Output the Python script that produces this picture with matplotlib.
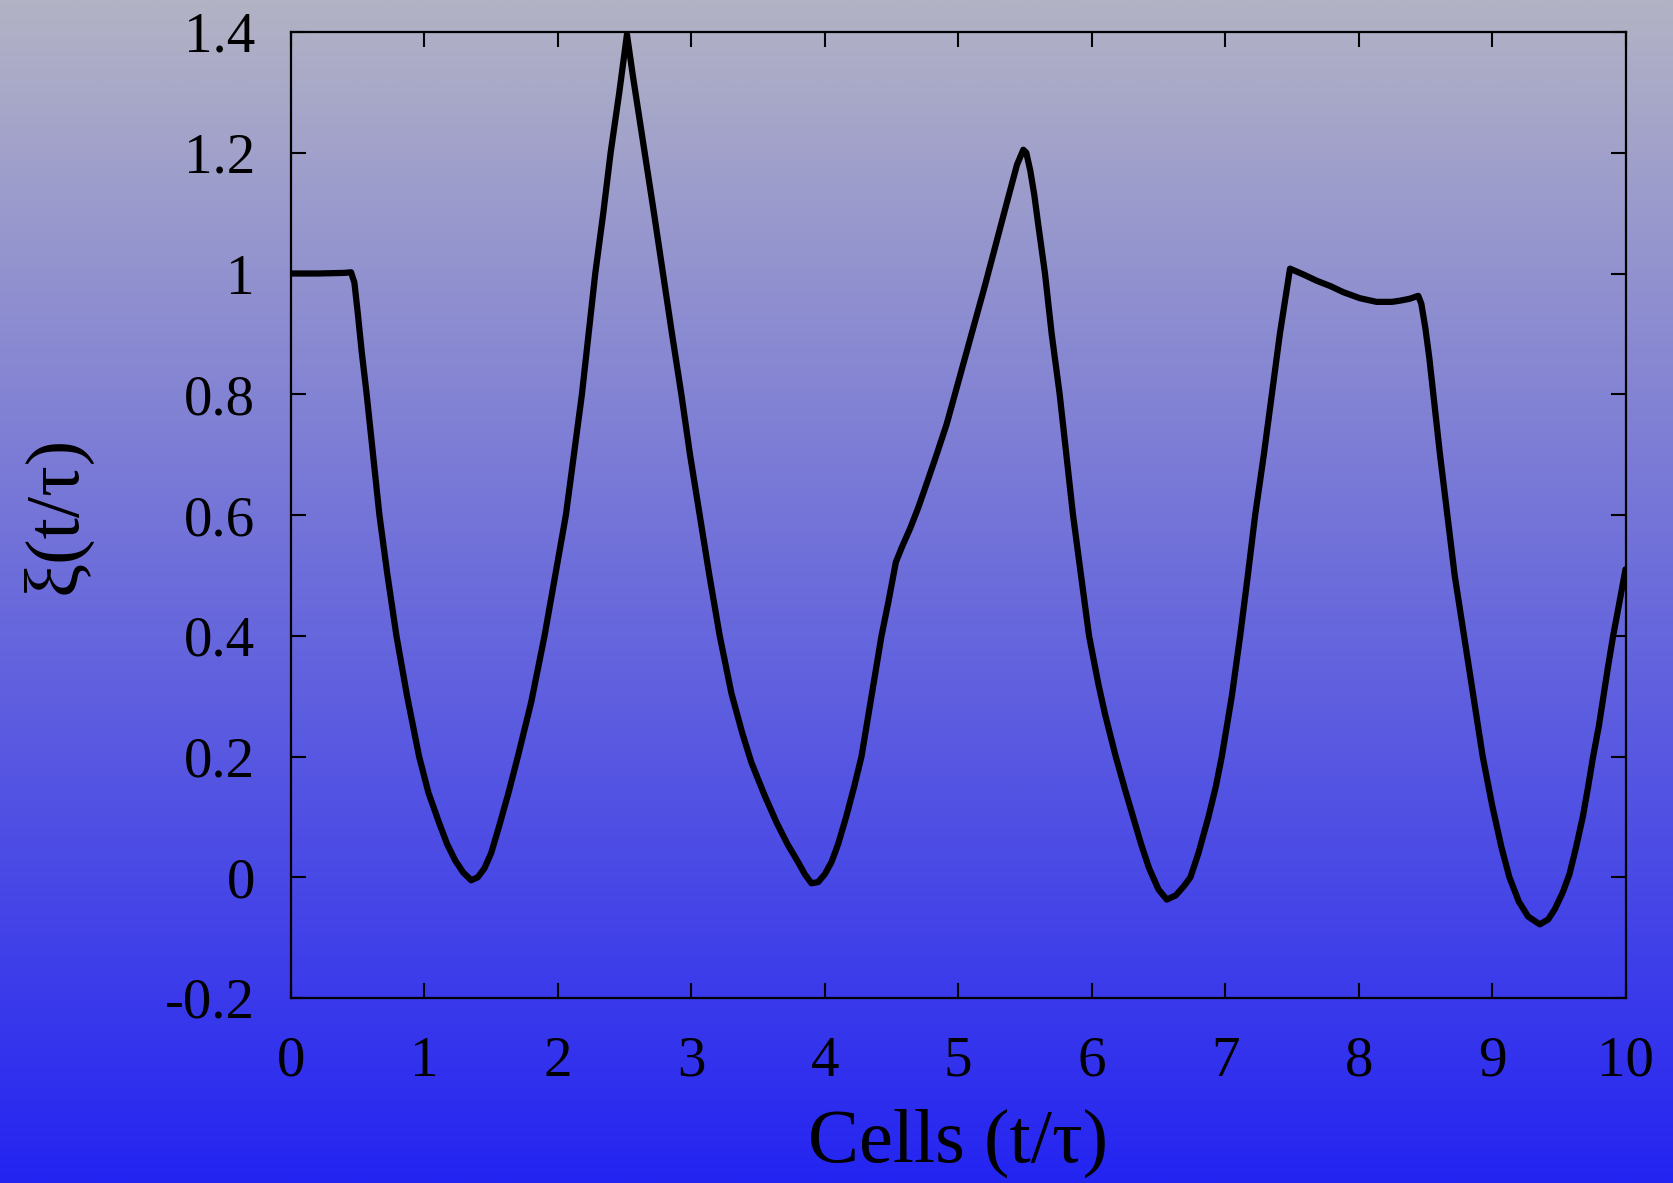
import numpy as np
import matplotlib
matplotlib.use('Agg')
import matplotlib.pyplot as plt
from matplotlib.colors import LinearSegmentedColormap

# ---- data ----
t = [0.0, 0.2, 0.4, 0.45, 0.475, 0.5, 0.53, 0.567, 0.615, 0.6625,
     0.72, 0.79, 0.87, 0.96, 1.03, 1.11, 1.17, 1.23, 1.29, 1.35,
     1.40, 1.45, 1.5, 1.56, 1.63, 1.70, 1.8, 1.9, 1.98, 2.06,
     2.12, 2.18, 2.23, 2.28, 2.34, 2.395, 2.46, 2.5175, 2.56, 2.65,
     2.72, 2.7875, 2.855, 2.925, 2.99, 3.0625, 3.135, 3.2125, 3.3, 3.38,
     3.45, 3.55, 3.64, 3.72, 3.8, 3.85, 3.9, 3.95, 4.0, 4.05,
     4.1, 4.16, 4.22, 4.275, 4.35, 4.425, 4.48, 4.5325, 4.58, 4.64,
     4.7, 4.76, 4.83, 4.9125, 5.0375, 5.2, 5.3625, 5.44, 5.4875, 5.51,
     5.54, 5.57, 5.6, 5.625, 5.65, 5.7, 5.76, 5.81, 5.86, 5.92,
     5.98, 6.05, 6.1, 6.18, 6.25, 6.31, 6.37, 6.43, 6.5, 6.5625,
     6.63, 6.69, 6.74, 6.8, 6.875, 6.93, 6.975, 7.05, 7.1125, 7.17,
     7.225, 7.29, 7.35, 7.41, 7.486, 7.59, 7.686, 7.79, 7.886, 8.011,
     8.135, 8.25, 8.31, 8.38, 8.447, 8.47, 8.5, 8.53, 8.56, 8.61,
     8.665, 8.72, 8.79, 8.86, 8.93, 9.0, 9.07, 9.13, 9.2, 9.27,
     9.3575, 9.42, 9.47, 9.53, 9.58, 9.63, 9.68, 9.72, 9.7575, 9.8,
     9.835, 9.87, 9.9075, 9.95, 10.0]

xi = [1.0, 1.0, 1.001, 1.002, 0.985, 0.935, 0.87, 0.8, 0.7, 0.6,
      0.505, 0.4, 0.3, 0.2, 0.14, 0.09, 0.055, 0.028, 0.008, -0.005,
      0.0, 0.015, 0.04, 0.085, 0.14, 0.2, 0.29, 0.4, 0.5, 0.6,
      0.7, 0.8, 0.9, 1.0, 1.1, 1.2, 1.3, 1.396, 1.33, 1.2,
      1.1, 1.0, 0.9, 0.8, 0.7, 0.6, 0.5, 0.4, 0.305, 0.24,
      0.19, 0.135, 0.09, 0.055, 0.025, 0.005, -0.01, -0.008, 0.005, 0.025,
      0.055, 0.1, 0.15, 0.2, 0.3, 0.4, 0.46, 0.522, 0.548, 0.578,
      0.612, 0.65, 0.695, 0.75, 0.85, 0.98, 1.116, 1.18, 1.205, 1.2,
      1.17, 1.13, 1.08, 1.04, 1.0, 0.9, 0.8, 0.7, 0.6, 0.5,
      0.4, 0.32, 0.27, 0.2, 0.145, 0.1, 0.055, 0.015, -0.02, -0.037,
      -0.03, -0.015, 0.0, 0.04, 0.1, 0.15, 0.2, 0.3, 0.4, 0.5,
      0.6, 0.7, 0.8, 0.9, 1.008, 0.998, 0.988, 0.979, 0.969, 0.959,
      0.953, 0.953, 0.955, 0.958, 0.963, 0.95, 0.91, 0.86, 0.8, 0.7,
      0.6, 0.5, 0.4, 0.3, 0.2, 0.12, 0.05, 0.0, -0.04, -0.065,
      -0.078, -0.07, -0.053, -0.025, 0.005, 0.05, 0.1, 0.15, 0.2, 0.25,
      0.3, 0.35, 0.4, 0.45, 0.51]

x_ticks = [0, 1, 2, 3, 4, 5, 6, 7, 8, 9, 10]
x_tick_labels = ['0', '1', '2', '3', '4', '5', '6', '7', '8', '9', '10']
y_ticks = [-0.2, 0.0, 0.2, 0.4, 0.6, 0.8, 1.0, 1.2, 1.4]
y_tick_labels = ['-0.2', '0', '0.2', '0.4', '0.6', '0.8', '1', '1.2', '1.4']

x_label = 'Cells (t/\u03c4)'
y_label = '\u03be(t/\u03c4)'

# ---- figure ----
plt.rcParams['font.family'] = ['Liberation Serif', 'DejaVu Serif']
W, H = 1673, 1183
fig = plt.figure(figsize=(W / 100, H / 100), dpi=100)

# gradient background
bg = fig.add_axes([0, 0, 1, 1], zorder=0)
grad = np.linspace(0, 1, 512).reshape(-1, 1)
cmap = LinearSegmentedColormap.from_list('bg', ['#B3B3C5', '#2424F2'])
bg.imshow(grad, aspect='auto', cmap=cmap, extent=[0, 1, 0, 1], origin='upper')
bg.axis('off')

left, right, top, bottom = 291, 1625.5, 32, 998
ax = fig.add_axes([left / W, 1 - bottom / H, (right - left) / W, (bottom - top) / H], zorder=1)
ax.patch.set_alpha(0)

ax.plot(t, xi, color='black', lw=4.5, solid_joinstyle='round', solid_capstyle='round')

ax.set_xlim(0, 10)
ax.set_ylim(-0.2, 1.4)
ax.set_xticks(x_ticks)
ax.set_xticklabels(x_tick_labels)
ax.set_yticks(y_ticks)
ax.set_yticklabels(y_tick_labels)

ax.tick_params(direction='in', length=11, width=1.5, top=True, right=True,
               labelsize=41, colors='black')
ax.tick_params(axis='x', pad=27)
ax.tick_params(axis='y', pad=26)
for s in ax.spines.values():
    s.set_linewidth(1.6)
    s.set_color('black')

ax.set_xlabel(x_label, fontsize=55, va='center')
ax.xaxis.set_label_coords(0.5, (bottom - 1143) / (bottom - top))
ax.set_ylabel(y_label, fontsize=55, va='center')
ax.yaxis.set_label_coords((56 - left) / (right - left), 0.5)

fig.savefig('out.png', dpi=100)
